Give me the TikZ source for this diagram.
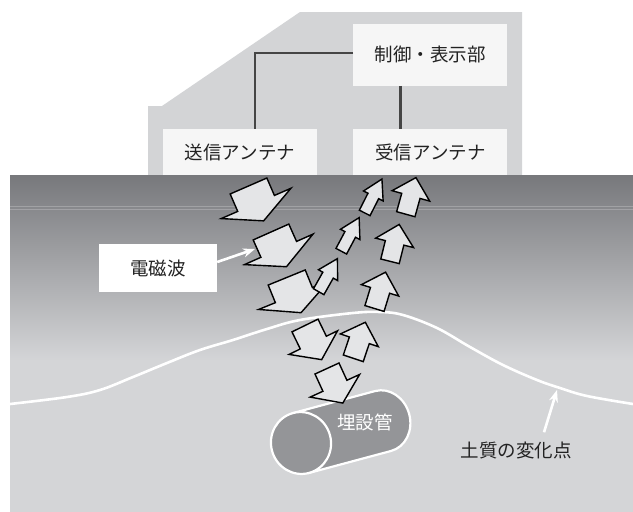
\documentclass[tikz,border=0pt]{standalone}
\usepackage{fontspec}
\setmainfont{Noto Sans CJK JP}
\usetikzlibrary{positioning,arrows.meta,calc}

\definecolor{inkc}{HTML}{222222}
\definecolor{wirec}{HTML}{454545}
\definecolor{housingc}{HTML}{D3D4D6}
\definecolor{panelc}{HTML}{F6F6F6}
\definecolor{soiltopc}{HTML}{77787C}
\definecolor{soilc}{HTML}{D4D5D7}
\definecolor{wavec}{HTML}{E4E5E7}
\definecolor{pipec}{HTML}{949598}

\begin{document}
\begin{tikzpicture}[
  x=1pt,y=1pt,
  font=\fontsize{18.5}{22}\selectfont,
  panel/.style={fill=panelc,text=inkc,minimum width=154pt,inner sep=0pt},
  wire/.style={draw=wirec,line width=2.2pt},
  wave/.style={draw=black,fill=wavec,line width=1.4pt,line join=miter},
  callout/.style={draw=white,line width=2.6pt,-{Stealth[length=12pt,width=9pt]}},
]
\useasboundingbox (0,0) rectangle (633,-512);

% antenna housing
\fill[housingc] (148,-175) -- (148,-106) -- (162,-106) -- (300,-12) -- (522,-12) -- (522,-175) -- cycle;

\node[panel,minimum height=46pt] (tx) at (240,-152) {送信アンテナ};
\node[panel,minimum height=46pt,right=36pt of tx] (rx) {受信アンテナ};
\node[panel,minimum height=62pt,above=43pt of rx] (ctrl) {制御・表示部};

\draw[wire] ([yshift=2pt]ctrl.west) -| ([xshift=15pt]tx.north);
\draw[wire] ([xshift=-30pt]ctrl.south) -- ([xshift=-30pt]rx.north);

% ground
\fill[top color=soiltopc,bottom color=soilc] (10,-175) rectangle (633,-360);
\fill[soilc] (10,-359.5) rectangle (633,-512);
\draw[white,opacity=.22,line width=.8pt] (10,-206) -- (633,-206) (10,-209.5) -- (633,-209.5);

% boundary between soil layers
\draw[white,line width=2.6pt] plot[smooth,tension=.6] coordinates {
  (10,-404) (67,-397) (100,-390) (133,-377) (167,-363) (200,-350) (233,-340)
  (267,-329) (300,-320) (353,-313) (380,-312) (403,-315) (437,-328) (470,-347)
  (503,-365) (537,-380) (560,-388) (587,-396) (633,-404)};
\coordinate (turn) at (557,-390);

% buried pipe
\begin{scope}[shift={(301,-443)},rotate=15]
  \filldraw[fill=pipec,draw=white,line width=2.2pt]
    (0,31) -- (85,31) arc[start angle=90,end angle=-90,x radius=27,y radius=31] -- (0,-31) -- cycle;
  \filldraw[fill=pipec,draw=white,line width=2.2pt] (0,0) ellipse[x radius=30,y radius=31];
\end{scope}
\node[text=white,inner sep=0pt] (buried) at (365,-422) {埋設管};

% transmitted and reflected waves: tail x/y, angle, half shaft, head extend
\foreach \px/\py/\ang/\w/\e in {
    248.5/186/-66.5/20/18, 271/232/-66/19.5/18, 286.7/277.5/-67.8/20/18,
    305/325.5/-64/14.5/12.5, 327/368.5/-65.4/13.2/14,
    405.8/214.2/74.5/9.5/10, 390/261.3/76/9.5/10, 374.5/308.5/73/10/9.5,
    353.3/358.3/71.5/10.5/9.5, 364.7/212.9/63/6/5, 341.3/251.2/62/6/5,
    318.7/291.7/60.5/6/5}
  \draw[wave,shift={(\px,-\py)},rotate=\ang]
    (0,-\w) -- (19,-\w) -- (19,-\w-\e) -- (38,0) -- (19,\w+\e) -- (19,\w) -- (0,\w) -- cycle;
\coordinate (hit) at (255,-249);

% labels
\node[fill=white,text=inkc,minimum width=118pt,minimum height=48pt,inner sep=0pt] (wave) at (158,-268) {電磁波};
\draw[callout] ([yshift=6pt]wave.east) -- (hit);

\node[text=inkc,inner sep=0pt] (soil) at (516,-450) {土質の変化点};
\draw[callout] ($(soil.north)+(28,9)$) -- (turn);
\end{tikzpicture}
\end{document}
